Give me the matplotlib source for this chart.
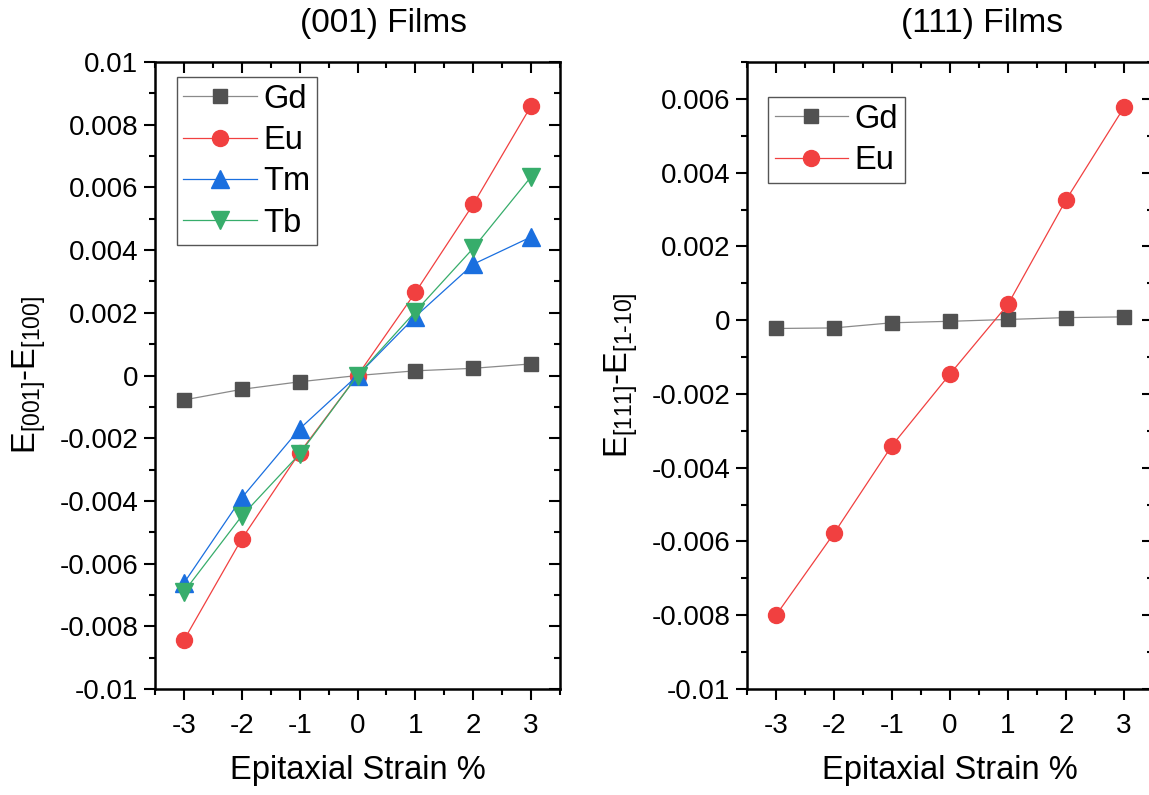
#!/usr/bin/env python3
"""
Anisotropy energy vs epitaxial strain for (001) and (111) films.
"""

import matplotlib
matplotlib.use("Agg")
import matplotlib.pyplot as plt
from matplotlib.ticker import MultipleLocator, FuncFormatter

plt.rcParams['font.family'] = ['Liberation Sans', 'DejaVu Sans']
plt.rcParams['mathtext.fontset'] = 'custom'
plt.rcParams['mathtext.rm'] = 'Liberation Sans'
plt.rcParams['mathtext.it'] = 'Liberation Sans:italic'
plt.rcParams['mathtext.bf'] = 'Liberation Sans:bold'

# Data
strain = [-3, -2, -1, 0, 1, 2, 3]

gd_001 = [-0.00078, -0.00044, -0.00020, 0.0, 0.00015, 0.00023, 0.00037]
eu_001 = [-0.00844, -0.00521, -0.00246, 0.0, 0.00265, 0.00546, 0.00860]
tm_001 = [-0.00662, -0.00390, -0.00170, 0.0, 0.00188, 0.00355, 0.00442]
tb_001 = [-0.00690, -0.00448, -0.00250, 0.0, 0.00204, 0.00406, 0.00634]

gd_111 = [-0.000225, -0.00021, -0.00007, -0.00003, 0.00002, 0.00007, 0.00009]
eu_111 = [-0.00800, -0.00578, -0.00340, -0.00146, 0.00043, 0.00326, 0.00577]

# Origin-like palette
C_GD = '#515151'
C_EU = '#F14040'
C_TM = '#1A6FDF'
C_TB = '#37AD6B'

fig = plt.figure(figsize=(11.49, 7.95), dpi=100)
ax1 = fig.add_axes([0.1349, 0.1333, 0.3525, 0.7887])
ax2 = fig.add_axes([0.6501, 0.1333, 0.3534, 0.7887])


def fmt(v, pos):
    if abs(v) < 1e-12:
        return "0"
    return f"{v:g}"


def style_axes(ax, ylim):
    ax.set_xlim(-3.5, 3.5)
    ax.set_ylim(*ylim)
    ax.xaxis.set_major_locator(MultipleLocator(1))
    ax.xaxis.set_minor_locator(MultipleLocator(0.5))
    ax.yaxis.set_major_locator(MultipleLocator(0.002))
    ax.yaxis.set_minor_locator(MultipleLocator(0.001))
    ax.yaxis.set_major_formatter(FuncFormatter(fmt))
    ax.xaxis.set_major_formatter(FuncFormatter(lambda v, p: f"{int(round(v))}"))
    for sp in ax.spines.values():
        sp.set_linewidth(1.8)
    # outward ticks on left/bottom, inward mirror ticks on top/right
    ax.tick_params(which='both', direction='out', width=1.5, labelsize=20)
    ax.tick_params(axis='x', pad=9)
    ax.tick_params(axis='y', pad=4)
    ax.tick_params(which='major', length=8)
    ax.tick_params(which='minor', length=4.5)
    ax.tick_params(axis='x', which='both', top=True)
    ax.tick_params(axis='y', which='both', right=True)
    ax.set_xlabel("Epitaxial Strain %", fontsize=23.5, labelpad=12)


style_axes(ax1, (-0.01, 0.01))
style_axes(ax2, (-0.01, 0.007))

# mirror ticks point inward on top and right
for ax in (ax1, ax2):
    for t in ax.xaxis.get_major_ticks() + ax.xaxis.get_minor_ticks():
        t.tick2line.set_marker(3)  # TICKDOWN
    for t in ax.yaxis.get_major_ticks() + ax.yaxis.get_minor_ticks():
        t.tick2line.set_marker(0)  # TICKLEFT

line_kw = dict(linewidth=0.9)

ax1.plot(strain, gd_001, '-', color='#8a8a8a', marker='s', markersize=10,
         markerfacecolor=C_GD, markeredgecolor=C_GD, label='Gd', **line_kw)
ax1.plot(strain, eu_001, '-', color=C_EU, marker='o', markersize=11.5,
         markerfacecolor=C_EU, markeredgecolor=C_EU, label='Eu', **line_kw)
ax1.plot(strain, tm_001, '-', color=C_TM, marker='^', markersize=13,
         markerfacecolor=C_TM, markeredgecolor=C_TM, label='Tm', **line_kw)
ax1.plot(strain, tb_001, '-', color=C_TB, marker='v', markersize=13,
         markerfacecolor=C_TB, markeredgecolor=C_TB, label='Tb', **line_kw)

ax2.plot(strain, gd_111, '-', color='#8a8a8a', marker='s', markersize=10,
         markerfacecolor=C_GD, markeredgecolor=C_GD, label='Gd', **line_kw)
ax2.plot(strain, eu_111, '-', color=C_EU, marker='o', markersize=11.5,
         markerfacecolor=C_EU, markeredgecolor=C_EU, label='Eu', **line_kw)

ax1.set_ylabel(r"E$_{[001]}$-E$_{[100]}$", fontsize=23.5, labelpad=8)
ax2.set_ylabel(r"E$_{[111]}$-E$_{[1\text{-}10]}$", fontsize=23.5, labelpad=8)

ax1.text(0.565, 1.037, "(001) Films", transform=ax1.transAxes,
         ha='center', va='bottom', fontsize=24)
ax2.text(0.58, 1.037, "(111) Films", transform=ax2.transAxes,
         ha='center', va='bottom', fontsize=24)

leg_kw = dict(fontsize=23.5, frameon=True, fancybox=False, framealpha=1,
              edgecolor='#555555', handlelength=2.25, handletextpad=0.2,
              labelspacing=0.32, borderpad=0.2, borderaxespad=0)
leg1 = ax1.legend(loc='upper left', bbox_to_anchor=(0.054, 0.976), **leg_kw)
leg2 = ax2.legend(loc='upper left', bbox_to_anchor=(0.052, 0.944), **leg_kw)
for leg in (leg1, leg2):
    leg.get_frame().set_linewidth(1.0)

fig.savefig("out.png", dpi=100)
